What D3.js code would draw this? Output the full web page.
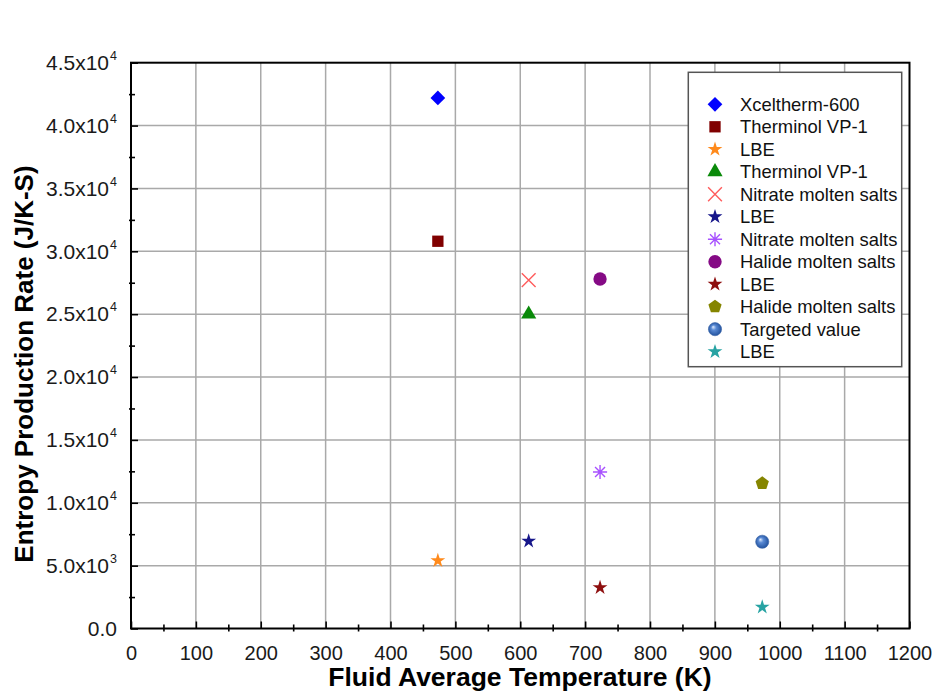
<!DOCTYPE html>
<html>
<head>
<meta charset="utf-8">
<script src="https://cdn.jsdelivr.net/npm/d3@7/dist/d3.min.js"></script>
<style>
  html, body { margin: 0; padding: 0; background: #fff; }
  svg { display: block; font-family: "Liberation Sans", Arial, Helvetica, sans-serif; }
</style>
</head>
<body>
<svg id="chart" width="937" height="694"></svg>
<script>
// Fluid data: average temperature (K) and entropy production rate (J/K-S)
const seriesNames = [
  "Xceltherm-600", "Therminol VP-1", "LBE", "Therminol VP-1",
  "Nitrate molten salts", "LBE", "Nitrate molten salts", "Halide molten salts",
  "LBE", "Halide molten salts", "Targeted value", "LBE"
];
const seriesTemps = [473, 473, 473, 613, 613, 613, 723, 723, 723, 973, 973, 973];
const seriesRates = [42200, 30800, 5400, 25000, 27700, 6950, 12450, 27800, 3250, 11550, 6900, 1700];

const xTicks = [0, 100, 200, 300, 400, 500, 600, 700, 800, 900, 1000, 1100, 1200];
const yTicks = [0, 5000, 10000, 15000, 20000, 25000, 30000, 35000, 40000, 45000];

// Marker appearance for each series (same order as above)
const markerStyles = [
  { shape: "diamond",  fill: "#0000ff" },
  { shape: "square",   fill: "#800000" },
  { shape: "star",     fill: "#ff8a1c" },
  { shape: "triangle", fill: "#0a8a0a" },
  { shape: "times",    stroke: "#ff5c5c" },
  { shape: "star",     fill: "#16168a" },
  { shape: "asterisk", stroke: "#a852ff" },
  { shape: "circle",   fill: "#850a85" },
  { shape: "star",     fill: "#8e0f0f" },
  { shape: "pentagon", fill: "#858500" },
  { shape: "sphere",   fill: "url(#sphereGrad)" },
  { shape: "star",     fill: "#27a3a3" }
];

const svg = d3.select("#chart");
const plotLeft = 131, plotRight = 909.5, plotTop = 62.7, plotBottom = 628.5;

const x = d3.scaleLinear().domain([0, 1200]).range([plotLeft, plotRight]);
const y = d3.scaleLinear().domain([0, 45000]).range([plotBottom, plotTop]);

// gradient for the shaded ball marker
const defs = svg.append("defs");
const grad = defs.append("radialGradient").attr("id", "sphereGrad")
  .attr("cx", "50%").attr("cy", "50%").attr("r", "55%")
  .attr("fx", "35%").attr("fy", "32%");
grad.append("stop").attr("offset", "0%").attr("stop-color", "#e4efff");
grad.append("stop").attr("offset", "35%").attr("stop-color", "#5a8ad4");
grad.append("stop").attr("offset", "100%").attr("stop-color", "#1c4c98");

// custom symbol types
const symPentagon = {
  draw(ctx, size) {
    const r = Math.sqrt(size / 2.3776);
    for (let i = 0; i < 5; i++) {
      const a = -Math.PI / 2 + i * 2 * Math.PI / 5;
      const px = r * Math.cos(a), py = r * Math.sin(a);
      if (i === 0) ctx.moveTo(px, py); else ctx.lineTo(px, py);
    }
    ctx.closePath();
  }
};
const symAsterisk8 = {
  draw(ctx, size) {
    const r = Math.sqrt(size) / 2;
    for (let i = 0; i < 4; i++) {
      const a = i * Math.PI / 4;
      ctx.moveTo(-r * Math.cos(a), -r * Math.sin(a));
      ctx.lineTo(r * Math.cos(a), r * Math.sin(a));
    }
  }
};
const symTimes = {
  draw(ctx, size) {
    const r = Math.sqrt(size) / 2;
    ctx.moveTo(-r, -r); ctx.lineTo(r, r);
    ctx.moveTo(-r, r); ctx.lineTo(r, -r);
  }
};

function symbolPath(shape) {
  switch (shape) {
    case "diamond":  return d3.symbol(d3.symbolSquare, 108)();
    case "square":   return d3.symbol(d3.symbolSquare, 128)();
    case "star":     return d3.symbol(d3.symbolStar, 68)();
    case "triangle": return d3.symbol(d3.symbolTriangle, 100)();
    case "times":    return d3.symbol(symTimes, 190)();
    case "asterisk": return d3.symbol(symAsterisk8, 200)();
    case "circle":   return d3.symbol(d3.symbolCircle, 140)();
    case "pentagon": return d3.symbol(symPentagon, 115)();
    case "sphere":   return d3.symbol(d3.symbolCircle, 136)();
  }
}

function drawMarker(sel, st) {
  const p = sel.append("path").attr("d", symbolPath(st.shape));
  if (st.shape === "diamond") p.attr("transform", "rotate(45)");
  if (st.stroke) {
    p.attr("fill", "none").attr("stroke", st.stroke).attr("stroke-width", 1.4);
  } else {
    p.attr("fill", st.fill);
    if (st.shape === "sphere") p.attr("stroke", "#3a64a8").attr("stroke-width", 0.6);
  }
}

// grid
const grid = svg.append("g");
grid.selectAll("line.gx").data(xTicks.filter(d => d > 0 && d < 1200)).join("line")
  .attr("x1", d => x(d)).attr("x2", d => x(d)).attr("y1", plotTop).attr("y2", plotBottom)
  .attr("stroke", "#a9a9a9").attr("stroke-width", 1.5);
grid.selectAll("line.gy").data(yTicks.filter(d => d > 0 && d < 45000)).join("line")
  .attr("x1", plotLeft).attr("x2", plotRight).attr("y1", d => y(d)).attr("y2", d => y(d))
  .attr("stroke", "#a9a9a9").attr("stroke-width", 1.5);

// minor ticks (crossing the axis lines)
const minorX = d3.range(50, 1200, 100);
const minorY = d3.range(2500, 45000, 5000);
svg.append("g").attr("transform", `translate(0,${plotBottom})`)
  .call(d3.axisBottom(x).tickValues(minorX).tickFormat("").tickSizeInner(3).tickSizeOuter(0))
  .call(g => g.select(".domain").remove())
  .call(g => g.selectAll(".tick line").attr("y1", -4).attr("stroke", "#000").attr("stroke-width", 1.6));
svg.append("g").attr("transform", `translate(${plotLeft},0)`)
  .call(d3.axisLeft(y).tickValues(minorY).tickFormat("").tickSizeInner(2).tickSizeOuter(0))
  .call(g => g.select(".domain").remove())
  .call(g => g.selectAll(".tick line").attr("x1", 4).attr("stroke", "#000").attr("stroke-width", 1.6));

// major axes (ticks pointing inward)
const xAxis = svg.append("g").attr("transform", `translate(0,${plotBottom})`)
  .call(d3.axisBottom(x).tickValues(xTicks).tickFormat(d3.format("d"))
    .tickSizeInner(-7).tickSizeOuter(0).tickPadding(17));
xAxis.select(".domain").remove();
xAxis.selectAll(".tick line").attr("stroke", "#000").attr("stroke-width", 1.6);
xAxis.selectAll(".tick text").attr("font-size", 20).attr("fill", "#1a1a1a")
  .attr("font-family", "Liberation Sans, Arial, sans-serif");

const yAxis = svg.append("g").attr("transform", `translate(${plotLeft},0)`)
  .call(d3.axisLeft(y).tickValues(yTicks).tickSizeInner(-7).tickSizeOuter(0).tickPadding(14).tickFormat(""));
yAxis.select(".domain").remove();
yAxis.selectAll(".tick line").attr("stroke", "#000").attr("stroke-width", 1.6);
yAxis.selectAll(".tick text").each(function(d) {
  const t = d3.select(this)
    .attr("font-size", 21).attr("fill", "#1a1a1a")
    .attr("font-family", "Liberation Sans, Arial, sans-serif");
  if (d === 0) { t.text("0.0"); return; }
  const exp = d >= 10000 ? 4 : 3;
  const mant = (d / Math.pow(10, exp)).toFixed(1);
  t.append("tspan").text(mant + "x10");
  t.append("tspan").attr("font-size", 12.5).attr("dx", 1).attr("dy", "-0.8em").text(exp);
});

// plot frame
svg.append("rect").attr("x", plotLeft).attr("y", plotTop)
  .attr("width", plotRight - plotLeft).attr("height", plotBottom - plotTop)
  .attr("fill", "none").attr("stroke", "#000").attr("stroke-width", 2);

// axis titles
svg.append("text").attr("x", 520).attr("y", 686).attr("text-anchor", "middle")
  .attr("font-size", 26.5).attr("font-weight", "bold").attr("fill", "#000")
  .text("Fluid Average Temperature (K)");
svg.append("text").attr("transform", "translate(33,364) rotate(-90)")
  .attr("text-anchor", "middle")
  .attr("font-size", 26).attr("font-weight", "bold").attr("fill", "#000")
  .text("Entropy Production Rate (J/K-S)");

// data markers
const points = seriesNames.map((n, i) => ({ name: n, t: seriesTemps[i], r: seriesRates[i], st: markerStyles[i] }));
svg.append("g").selectAll("g").data(points).join("g")
  .attr("transform", d => `translate(${x(d.t)},${y(d.r)})`)
  .each(function(d) { drawMarker(d3.select(this), d.st); });

// legend
const legend = svg.append("g");
legend.append("rect").attr("x", 688.3).attr("y", 72.3).attr("width", 213.4).attr("height", 294.4)
  .attr("fill", "#fff").attr("stroke", "#555").attr("stroke-width", 1.5);
const rows = legend.selectAll("g.row").data(points).join("g")
  .attr("transform", (d, i) => `translate(715,${104.3 + i * 22.49})`);
rows.each(function(d) { drawMarker(d3.select(this), d.st); });
rows.append("text").attr("x", 25).attr("y", 6.5)
  .attr("font-size", 18.4).attr("fill", "#111")
  .text(d => d.name);
</script>
</body>
</html>
